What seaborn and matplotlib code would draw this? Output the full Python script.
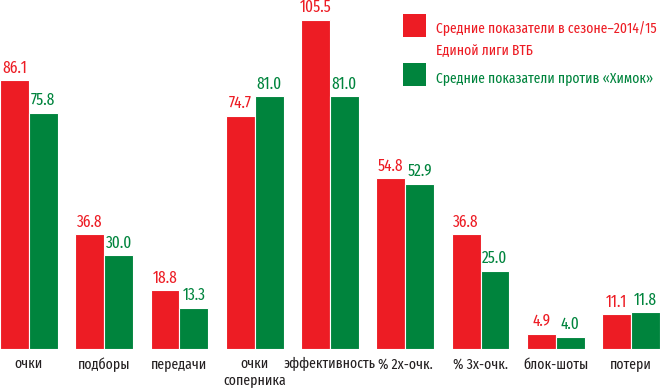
import matplotlib
matplotlib.use("Agg")
import matplotlib.pyplot as plt
import seaborn as sns
import pandas as pd
from matplotlib.patches import Rectangle
from matplotlib import font_manager as fm

categories = ["очки", "подборы", "передачи", "очки\nсоперника", "эффективность",
              "% 2х-очк.", "% 3х-очк.", "блок-шоты", "потери"]
season_vals = [86.1, 36.8, 18.8, 74.7, 105.5, 54.8, 36.8, 4.9, 11.1]
khimki_vals = [75.8, 30.0, 13.3, 81.0, 81.0, 52.9, 25.0, 4.0, 11.8]
series_names = ["Средние показатели в сезоне–2014/15\nЕдиной лиги ВТБ",
                "Средние показатели против «Химок»"]
RED = "#ED1C24"
GREEN = "#00843D"

sns.set_style("white")
available = {f.name for f in fm.fontManager.ttflist}
prefs = ["Fira Sans Extra Condensed", "Roboto Condensed", "PT Sans Narrow"]
fam = [p for p in prefs if p in available][:1] + ["DejaVu Sans"]
plt.rcParams["font.family"] = fam

df = pd.DataFrame({
    "cat": categories * 2,
    "val": season_vals + khimki_vals,
    "series": [series_names[0]] * len(categories) + [series_names[1]] * len(categories),
})

fig = plt.figure(figsize=(6.6, 3.88), dpi=100)
ax = fig.add_axes([0, 39 / 388, 1, 349 / 388])
sns.barplot(data=df, x="cat", y="val", hue="series", palette=[RED, GREEN],
            width=0.765, ax=ax, legend=False, edgecolor="white", linewidth=0.8,
            saturation=1)
ax.set_xlim(-0.385, 8.385)
ax.set_ylim(0, 349 / 3.12)
ax.axis("off")

for cont, col in zip(ax.containers, [RED, GREEN]):
    labels = [f"{v:.1f}" for v in cont.datavalues]
    ax.bar_label(cont, labels=labels, padding=3, color=col, fontsize=12)

for i, c in enumerate(categories):
    ax.text(i, -2.6, c, ha="center", va="top", fontsize=10.8, color="#231F20",
            linespacing=1.15, clip_on=False)

# legend
W, H = 660, 388
entries = [(14, RED, series_names[0]), (63, GREEN, series_names[1])]
for y0, col, txt in entries:
    fig.patches.append(Rectangle((403 / W, 1 - (y0 + 23) / H), 23 / W, 23 / H,
                                 transform=fig.transFigure, facecolor=col,
                                 edgecolor="none"))
    for k, line in enumerate(txt.split("\n")):
        fig.text(436 / W, 1 - (y0 + 19 + 22 * k) / H, line, ha="left",
                 va="baseline", color=col, fontsize=10.6)

fig.savefig("out.png", dpi=100)
